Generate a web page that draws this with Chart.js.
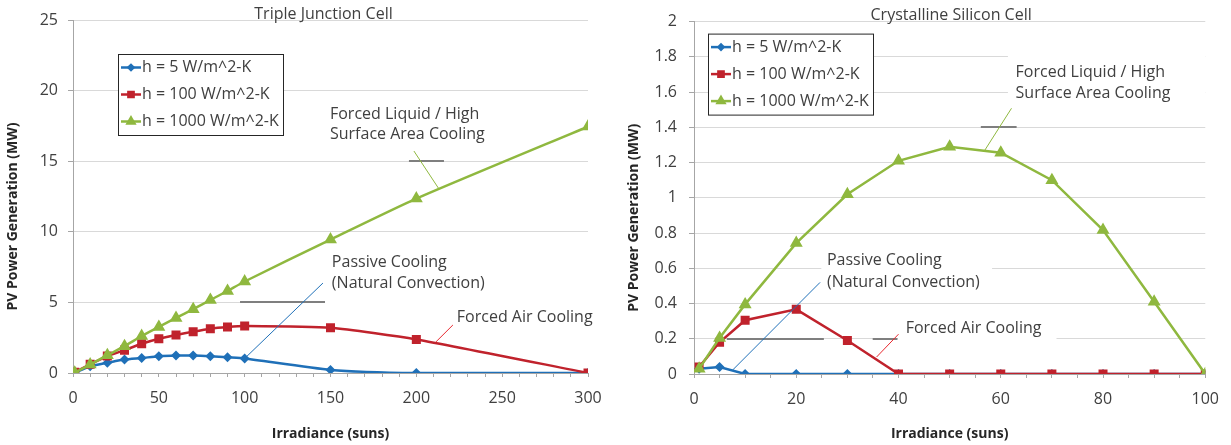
<!DOCTYPE html>
<html>
<head>
<meta charset="utf-8">
<title>PV power generation vs irradiance</title>
<script src="https://cdn.jsdelivr.net/npm/chart.js@4.4.1/dist/chart.umd.min.js"></script>
<style>
    body { margin: 0; background: #fff; }
    #wrap { display: flex; width: 1231px; height: 445px; }
    .panel { position: relative; height: 445px; }
</style>
</head>
<body>
<div id="wrap">
    <div class="panel" style="width:615px"><canvas id="triple-chart"></canvas></div>
    <div class="panel" style="width:616px"><canvas id="silicon-chart"></canvas></div>
</div>
<script>
// Triple junction cell (MW)
var tripleSuns = [1, 10, 20, 30, 40, 50, 60, 70, 80, 90, 100, 150, 200, 300];
var tripleH5 = [0.02, 0.48, 0.72, 0.95, 1.06, 1.19, 1.24, 1.24, 1.19, 1.11, 1.03, 0.22, 0, 0];
var tripleH100 = [0.05, 0.62, 1.2, 1.62, 2.07, 2.43, 2.69, 2.93, 3.14, 3.26, 3.33, 3.2, 2.38, 0];
var tripleH1000 = [0.02, 0.6, 1.26, 1.9, 2.62, 3.26, 3.9, 4.52, 5.17, 5.81, 6.48, 9.45, 12.35, 17.45];

// Crystalline silicon cell (MW)
var siliconSuns = [1, 5, 10, 20, 30, 40, 50, 60, 70, 80, 90, 100];
var siliconH5 = [0.03, 0.04, 0, 0, 0, 0, 0, 0, 0, 0, 0, 0];
var siliconH100 = [0.04, 0.18, 0.305, 0.367, 0.19, 0, 0, 0, 0, 0, 0, 0];
var siliconH1000 = [0.03, 0.205, 0.395, 0.743, 1.02, 1.21, 1.29, 1.256, 1.1, 0.817, 0.41, 0];

var seriesLabels = ['h = 5 W/m^2-K', 'h = 100 W/m^2-K', 'h = 1000 W/m^2-K'];
var chartTitles = ['Triple Junction Cell', 'Crystalline Silicon Cell'];
var xTitle = 'Irradiance (suns)';
var yTitle = 'PV Power Generation (MW)';

var blue = '#1f70b8';
var red = '#c0222c';
var green = '#8fb83f';
var textColor = '#404040';
var fontFamily = '"Open Sans", sans-serif';

Chart.defaults.font.family = fontFamily;
Chart.defaults.color = textColor;

// callouts, in data units of each chart
var tripleNotes = [
    { lines: ['Forced Liquid / High', 'Surface Area Cooling'], x: 149.7, y: [18.34, 16.86], lead: [198.6, 15.72, 213.2, 13.03], color: green },
    { lines: ['Passive Cooling', '(Natural Convection)'], x: 150.8, y: [7.86, 6.37], lead: [100, 1.03, 145.6, 6.37], color: blue },
    { lines: ['Forced Air Cooling'], x: 223.6, y: [3.97], lead: [221.3, 3.4, 211.4, 2.2], color: '#e8282e' }
];
var tripleBoxes = [[146.8, 242.9, 4.82, 8.71], [219.6, 300, 2.69, 5.2]];
var tripleMarks = [[97.3, 146.8, 5], [195.7, 216.1, 15]];

var siliconNotes = [
    { lines: ['Forced Liquid / High', 'Surface Area Cooling'], x: 62.9, y: [1.714, 1.595], lead: [62.1, 1.508, 56.9, 1.271], color: green },
    { lines: ['Passive Cooling', '(Natural Convection)'], x: 26.0, y: [0.644, 0.52], lead: [7.57, 0.023, 24.66, 0.52], color: blue },
    { lines: ['Forced Air Cooling'], x: 41.4, y: [0.26], lead: [40.0, 0.226, 35.7, 0.096], color: '#e8282e' }
];
var siliconBoxes = [[61.4, 100, 1.537, 1.842], [24.9, 58.3, 0.458, 0.7], [39.8, 70.9, 0.164, 0.316]];
var siliconMarks = [[6.41, 25.4, 0.2], [34.95, 39.8, 0.2], [56.1, 63.1, 1.4]];

function toPoints(xs, ys) {
    return xs.map((x, i) => ({ x: x, y: ys[i] }));
}

function makeDatasets(xs, h5, h100, h1000, tension) {
    return [
        { label: seriesLabels[0], data: toPoints(xs, h5), borderColor: blue, backgroundColor: blue,
          pointStyle: 'rectRot', pointRadius: 3.2, borderWidth: 2.5, tension: tension, order: 3 },
        { label: seriesLabels[1], data: toPoints(xs, h100), borderColor: red, backgroundColor: red,
          pointStyle: 'rect', pointRadius: 4.6, borderWidth: 2.5, tension: tension, order: 2 },
        { label: seriesLabels[2], data: toPoints(xs, h1000), borderColor: green, backgroundColor: green,
          pointStyle: 'triangle', pointRadius: 5, borderWidth: 2.5, tension: tension, order: 1 }
    ];
}

var notesPlugin = {
    id: 'notes',
    beforeDatasetsDraw(chart, args, opts) {
        const ctx = chart.ctx;
        const xs = chart.scales.x;
        const ys = chart.scales.y;
        ctx.save();
        ctx.fillStyle = '#fff';
        opts.boxes.forEach(b => {
            const x1 = xs.getPixelForValue(b[0]);
            const x2 = xs.getPixelForValue(b[1]);
            const y1 = ys.getPixelForValue(b[3]);
            const y2 = ys.getPixelForValue(b[2]);
            ctx.fillRect(x1, y1, x2 - x1, y2 - y1);
        });
        ctx.strokeStyle = '#7f7f7f';
        ctx.lineWidth = 2;
        opts.marks.forEach(m => {
            const y = Math.round(ys.getPixelForValue(m[2]));
            ctx.beginPath();
            ctx.moveTo(xs.getPixelForValue(m[0]), y);
            ctx.lineTo(xs.getPixelForValue(m[1]), y);
            ctx.stroke();
        });
        ctx.restore();
    },
    afterDatasetsDraw(chart, args, opts) {
        const ctx = chart.ctx;
        const xs = chart.scales.x;
        const ys = chart.scales.y;
        const area = chart.chartArea;
        ctx.save();

        // leader lines and callout text
        ctx.lineWidth = 1;
        opts.notes.forEach(n => {
            ctx.strokeStyle = n.color;
            ctx.beginPath();
            ctx.moveTo(xs.getPixelForValue(n.lead[0]), ys.getPixelForValue(n.lead[1]));
            ctx.lineTo(xs.getPixelForValue(n.lead[2]), ys.getPixelForValue(n.lead[3]));
            ctx.stroke();
        });
        ctx.fillStyle = textColor;
        ctx.font = '16px ' + fontFamily;
        ctx.textBaseline = 'middle';
        ctx.textAlign = 'left';
        opts.notes.forEach(n => {
            n.lines.forEach((line, i) => {
                ctx.fillText(line, xs.getPixelForValue(n.x), ys.getPixelForValue(n.y[i]));
            });
        });

        // chart title, sitting on the top gridline
        ctx.textAlign = 'center';
        ctx.fillText(opts.title, (area.left + area.right) / 2 + opts.titleShift, area.top - 6);

        // y axis title, a little below the middle of the plot like the original
        ctx.save();
        ctx.translate(opts.yTitleX, (area.top + area.bottom) / 2 + 20);
        ctx.rotate(-Math.PI / 2);
        ctx.fillStyle = '#262626';
        ctx.font = 'bold 14px ' + fontFamily;
        ctx.fillText(yTitle, 0, 0);
        ctx.restore();

        // legend box
        const lx = area.left + opts.legendAt[0];
        const ly = area.top + opts.legendAt[1];
        ctx.fillStyle = '#fff';
        ctx.fillRect(lx, ly, 165, 81);
        ctx.strokeStyle = '#262626';
        ctx.lineWidth = 1;
        ctx.strokeRect(lx + 0.5, ly + 0.5, 165, 81);
        chart.data.datasets.forEach((ds, i) => {
            const rowY = ly + 13.5 + i * 27;
            ctx.strokeStyle = ds.borderColor;
            ctx.fillStyle = ds.borderColor;
            ctx.lineWidth = 2.5;
            ctx.beginPath();
            ctx.moveTo(lx + 3, rowY);
            ctx.lineTo(lx + 23, rowY);
            ctx.stroke();
            Chart.helpers.drawPoint(ctx, { pointStyle: ds.pointStyle, radius: ds.pointRadius * 0.8, rotation: 0, borderWidth: 1 }, lx + 13, rowY);
            ctx.fillStyle = textColor;
            ctx.textAlign = 'left';
            ctx.fillText(ds.label, lx + 24, rowY);
        });
        ctx.restore();
    }
};

function buildChart(canvasId, cfg) {
    const canvas = document.getElementById(canvasId);
    return new Chart(canvas, {
        type: 'line',
        data: { datasets: cfg.datasets },
        options: {
            responsive: true,
            maintainAspectRatio: false,
            animation: false,
            layout: { padding: { top: 20, right: cfg.padRight, left: 0, bottom: 0 } },
            plugins: {
                legend: { display: false },
                tooltip: { enabled: false },
                notes: cfg.notes
            },
            scales: {
                x: {
                    type: 'linear',
                    min: 0,
                    max: cfg.xMax,
                    ticks: {
                        stepSize: cfg.xMinor,
                        autoSkip: false,
                        maxRotation: 0,
                        padding: 12,
                        color: textColor,
                        font: { size: 16 },
                        callback: v => (v % cfg.xMajor === 0 ? String(v) : '')
                    },
                    grid: { drawOnChartArea: false, tickLength: 4, color: '#a6a6a6' },
                    border: { color: '#a6a6a6' },
                    title: {
                        display: true,
                        text: xTitle,
                        color: '#262626',
                        font: { size: 14, weight: 'bold' },
                        padding: { top: 0, bottom: 3 }
                    },
                    afterFit: s => { s.height = cfg.xHeight; }
                },
                y: {
                    min: 0,
                    max: cfg.yMax,
                    ticks: {
                        stepSize: cfg.yStep,
                        padding: cfg.yTickPad,
                        color: textColor,
                        font: { size: 16 },
                        callback: v => String(Math.round(v * 10) / 10)
                    },
                    grid: { color: '#d9d9d9', tickLength: 5, tickColor: '#a6a6a6' },
                    border: { color: '#a6a6a6' },
                    afterFit: s => { s.width = cfg.yWidth; }
                }
            }
        },
        plugins: [notesPlugin]
    });
}

buildChart('triple-chart', {
    datasets: makeDatasets(tripleSuns, tripleH5, tripleH100, tripleH1000, 0.2),
    xMax: 300, xMinor: 10, xMajor: 50,
    yMax: 25, yStep: 5,
    padRight: 27, xHeight: 72, yWidth: 73, yTickPad: 10,
    notes: { title: chartTitles[0], titleShift: -7, yTitleX: 13.5, legendAt: [45, 34], notes: tripleNotes, boxes: tripleBoxes, marks: tripleMarks }
});

buildChart('silicon-chart', {
    datasets: makeDatasets(siliconSuns, siliconH5, siliconH100, siliconH1000, 0),
    xMax: 100, xMinor: 5, xMajor: 20,
    yMax: 2, yStep: 0.2,
    padRight: 22, xHeight: 71, yWidth: 79, yTickPad: 12,
    notes: { title: chartTitles[1], titleShift: 1.5, yTitleX: 19, legendAt: [14, 12], notes: siliconNotes, boxes: siliconBoxes, marks: siliconMarks }
});
</script>
</body>
</html>
